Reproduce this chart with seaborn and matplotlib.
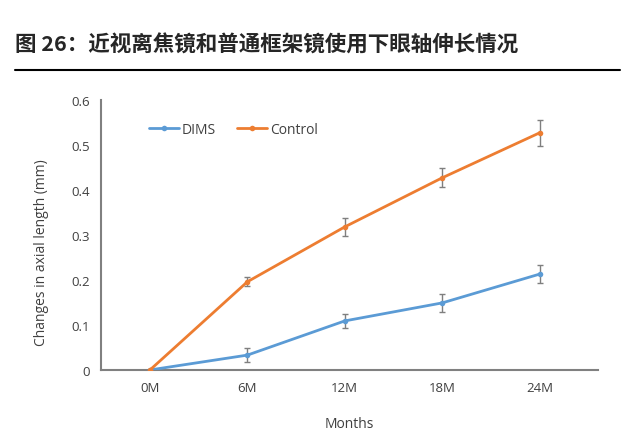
import pandas as pd
import numpy as np
import seaborn as sns
import matplotlib.pyplot as plt

months = ["0M", "6M", "12M", "18M", "24M"]
dims = [0.0, 0.033, 0.109, 0.149, 0.213]
dims_err = [0.0, 0.015, 0.015, 0.02, 0.02]
control = [0.0, 0.196, 0.318, 0.427, 0.527]
control_err = [0.0, 0.01, 0.02, 0.021, 0.029]

df = pd.DataFrame({
    "Months": months * 2,
    "val": dims + control,
    "err": dims_err + control_err,
    "group": ["DIMS"] * len(months) + ["Control"] * len(months),
})
df["x"] = list(range(len(months))) * 2

sns.set_style("white")
plt.rcParams['font.family'] = ['Open Sans', 'DejaVu Sans']

colors = {"DIMS": "#5B9BD5", "Control": "#ED7D31"}

fig = plt.figure(figsize=(6.41, 4.39), dpi=100)
ax = fig.add_axes([0.158, 0.155, 0.775, 0.615])

for g in ["DIMS", "Control"]:
    sub = df[df["group"] == g]
    ax.errorbar(sub["x"], sub["val"], yerr=sub["err"], fmt="none",
                ecolor="#7f7f7f", elinewidth=1, capsize=2.5, capthick=1, zorder=3)

sns.lineplot(data=df, x="x", y="val", hue="group", palette=colors,
             marker="o", markersize=4, markeredgewidth=0, linewidth=2,
             ax=ax, zorder=4)

ax.set_xlim(-0.5, 4.6)
ax.set_ylim(0, 0.6)
ax.set_xticks(range(len(months)))
ax.set_xticklabels(months)
ax.set_yticks(np.arange(0, 0.61, 0.1))
ax.set_yticklabels(["0", "0.1", "0.2", "0.3", "0.4", "0.5", "0.6"])
ax.tick_params(axis='both', labelsize=9.5, colors="#404040", length=0, pad=8)
ax.set_xlabel("Months", fontsize=10, color="#404040", labelpad=16)
ax.set_ylabel("Changes in axial length (mm)", fontsize=10, color="#404040")
ax.yaxis.set_label_coords(-0.105, 0.44)
for s in ["top", "right"]:
    ax.spines[s].set_visible(False)
for s in ["left", "bottom"]:
    ax.spines[s].set_color("#808080")
    ax.spines[s].set_linewidth(1.5)

leg = ax.legend(loc="upper left", bbox_to_anchor=(0.07, 0.965), ncol=2, frameon=False,
                fontsize=10, handlelength=2.2, handletextpad=0.2, columnspacing=1.5)
for t in leg.get_texts():
    t.set_color("#404040")

fig.text(0.023, 0.897, "图 26：近视离焦镜和普通框架镜使用下眼轴伸长情况",
         fontsize=15.5, fontweight="bold", family=['Noto Sans CJK SC', 'DejaVu Sans'],
         va="center", ha="left")
fig.add_artist(plt.Line2D([0.023, 0.967], [0.838, 0.838], color="black", linewidth=1.5,
                          transform=fig.transFigure))

fig.savefig("out.png", dpi=100)
plt.close()
